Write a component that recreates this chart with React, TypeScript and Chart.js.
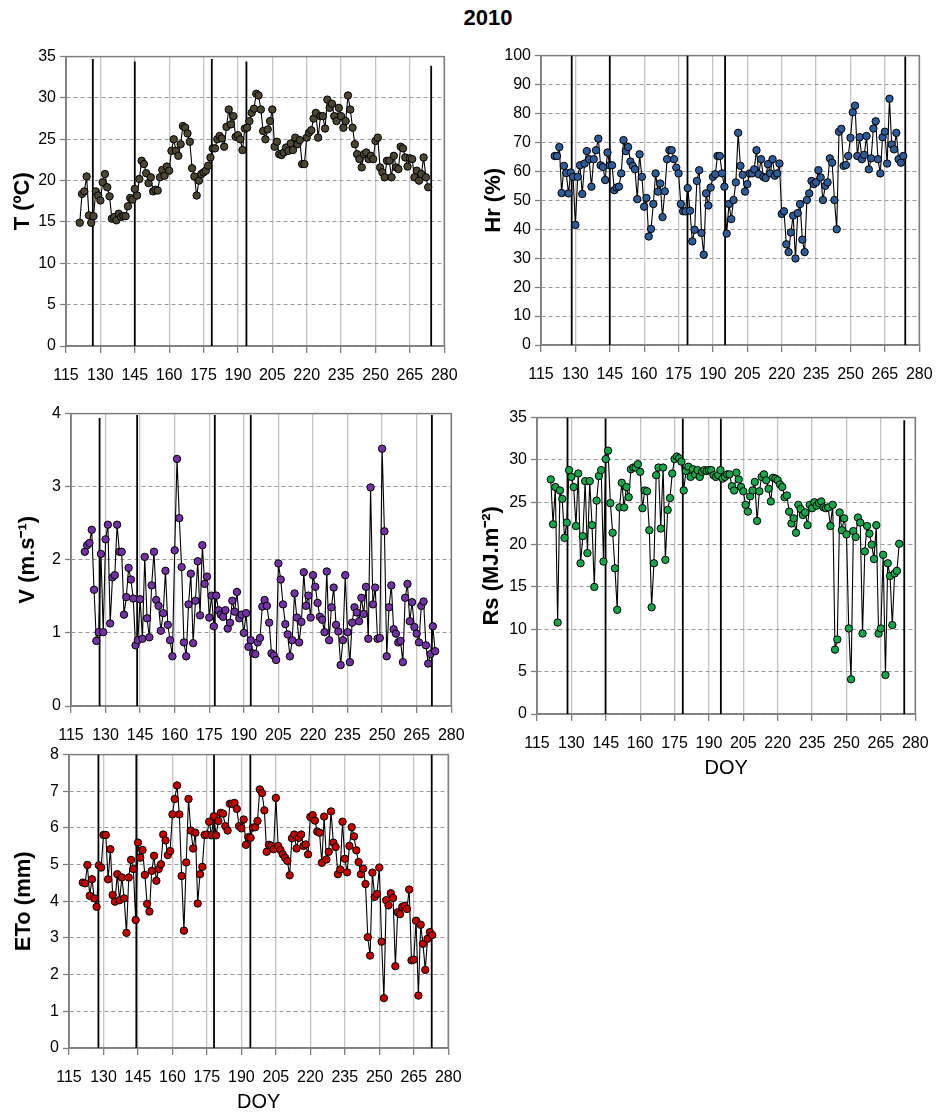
import React, { useEffect, useRef } from "react";
import { Chart, registerables } from "chart.js";

Chart.register(...registerables);

// ---------------- DATA ----------------
const DOY = [
  121, 122, 123, 124, 125, 126, 127, 128, 129, 130, 131, 132, 133, 134, 135, 136, 137, 138, 139, 140,
  141, 142, 143, 144, 145, 146, 147, 148, 149, 150, 151, 152, 153, 154, 155, 156, 157, 158, 159, 160,
  161, 162, 163, 164, 165, 166, 167, 168, 169, 170, 171, 172, 173, 174, 175, 176, 177, 178, 179, 180,
  181, 182, 183, 184, 185, 186, 187, 188, 189, 190, 191, 192, 193, 194, 195, 196, 197, 198, 199, 200,
  201, 202, 203, 204, 205, 206, 207, 208, 209, 210, 211, 212, 213, 214, 215, 216, 217, 218, 219, 220,
  221, 222, 223, 224, 225, 226, 227, 228, 229, 230, 231, 232, 233, 234, 235, 236, 237, 238, 239, 240,
  241, 242, 243, 244, 245, 246, 247, 248, 249, 250, 251, 252, 253, 254, 255, 256, 257, 258, 259, 260,
  261, 262, 263, 264, 265, 266, 267, 268, 269, 270, 271, 272, 273,
];

const T_VALUES = [
  14.9, 18.4, 18.7, 20.5, 15.8, 14.9, 15.7, 18.7, 18.2, 17.6,
  19.8, 20.8, 19.2, 18.1, 15.4, 15.6, 15.2, 16.0, 15.6, 15.7,
  15.7, 16.9, 17.9, 17.7, 19.0, 18.2, 20.2, 22.4, 22.0, 20.9,
  19.7, 20.4, 18.7, 18.9, 18.8, 20.4, 21.3, 20.6, 21.7, 21.2,
  23.6, 25.0, 23.6, 23.0, 24.4, 26.6, 26.4, 25.7, 24.7, 21.5,
  20.5, 18.2, 20.0, 20.8, 21.0, 21.2, 21.8, 22.8, 23.9, 23.9,
  25.0, 25.4, 25.1, 24.1, 26.5, 28.6, 26.8, 27.8, 25.3, 25.5,
  25.0, 23.7, 26.3, 26.4, 27.2, 28.2, 28.7, 30.5, 30.3, 28.6,
  26.0, 25.0, 26.2, 27.2, 28.6, 24.1, 24.7, 23.2, 23.1, 23.4,
  24.0, 23.6, 24.5, 23.7, 25.2, 24.4, 24.9, 22.0, 22.0, 25.2,
  25.8, 26.1, 27.5, 28.2, 25.2, 27.8, 27.8, 26.3, 29.8, 28.8,
  29.3, 27.8, 27.2, 28.8, 27.8, 26.4, 27.2, 30.3, 28.6, 26.4,
  24.4, 23.2, 22.6, 21.6, 23.2, 23.4, 22.6, 23.0, 22.6, 24.8,
  25.2, 21.6, 21.0, 20.4, 22.4, 22.4, 20.4, 23.0, 21.6, 21.4,
  24.1, 23.9, 22.8, 21.7, 22.7, 22.6, 20.4, 21.2, 20.0, 20.8,
  22.8, 20.4, 19.2,
];

const HR_VALUES = [
  65.3, 65.3, 68.4, 52.5, 61.9, 59.4, 52.4, 59.6, 58.1, 41.5,
  58.1, 62.1, 52.2, 62.7, 67.0, 64.2, 54.7, 64.2, 67.3, 71.3,
  62.1, 61.5, 57.0, 66.5, 62.1, 62.1, 53.5, 54.4, 54.7, 59.3,
  70.8, 67.0, 68.4, 63.4, 61.9, 60.7, 50.4, 65.9, 58.1, 47.8,
  50.8, 37.5, 40.1, 48.7, 59.3, 53.0, 55.8, 44.2, 53.1, 64.2,
  67.3, 67.3, 64.2, 61.3, 59.3, 48.7, 46.2, 46.2, 54.2, 46.4,
  35.8, 39.8, 56.7, 60.4, 38.7, 31.2, 52.4, 48.2, 54.4, 58.1,
  59.0, 65.3, 65.3, 59.3, 54.7, 38.5, 48.7, 43.5, 50.1, 56.2,
  73.3, 61.9, 58.8, 53.0, 55.6, 59.3, 59.3, 60.7, 67.3, 59.0,
  64.2, 58.1, 57.7, 62.5, 59.3, 64.2, 58.5, 59.3, 62.7, 45.3,
  46.2, 34.8, 32.1, 38.9, 44.7, 29.9, 45.6, 48.7, 36.4, 32.1,
  50.1, 52.4, 56.7, 55.6, 56.2, 60.4, 57.9, 50.1, 55.0, 56.2,
  64.5, 63.0, 50.1, 40.0, 73.7, 74.7, 61.9, 62.2, 65.3, 71.6,
  80.4, 82.7, 65.3, 71.8, 64.2, 65.7, 72.2, 60.7, 64.5, 74.8,
  77.3, 64.2, 59.3, 71.8, 73.7, 62.7, 85.1, 69.3, 67.6, 73.3,
  64.2, 63.0, 65.3,
];

const V_VALUES = [
  2.11, 2.20, 2.23, 2.41, 1.59, 0.89, 1.01, 2.08, 1.01, 2.28,
  2.48, 1.13, 1.76, 1.79, 2.48, 2.11, 2.11, 1.25, 1.49, 1.89,
  1.73, 1.47, 0.83, 0.90, 1.46, 0.92, 2.04, 1.20, 0.94, 1.65,
  2.11, 1.45, 1.37, 1.03, 1.27, 1.85, 1.11, 0.90, 0.68, 2.13,
  3.38, 2.57, 1.90, 0.87, 0.68, 1.39, 1.81, 0.86, 1.44, 1.98,
  1.24, 2.20, 1.67, 1.77, 1.21, 1.51, 1.09, 1.51, 1.31, 1.25,
  1.22, 1.31, 1.06, 1.14, 1.44, 1.29, 1.56, 1.20, 1.25, 1.00,
  1.27, 0.81, 0.90, 0.72, 0.71, 0.87, 0.93, 1.36, 1.45, 1.37,
  1.14, 0.72, 0.69, 0.63, 1.95, 1.73, 1.39, 1.12, 0.98, 0.68,
  0.90, 1.54, 1.21, 0.87, 1.15, 1.83, 1.37, 1.51, 1.21, 1.79,
  1.63, 1.41, 1.22, 1.18, 1.01, 1.84, 0.90, 1.35, 1.62, 1.11,
  1.02, 0.56, 0.90, 1.79, 1.01, 0.60, 1.14, 1.35, 1.28, 1.16,
  1.48, 1.26, 1.63, 0.92, 2.99, 1.39, 1.62, 0.92, 0.93, 3.52,
  2.39, 0.68, 1.35, 1.65, 1.05, 0.99, 0.87, 0.89, 0.60, 1.48,
  1.67, 1.16, 1.42, 1.08, 0.99, 0.87, 1.37, 1.43, 0.83, 0.58,
  0.71, 1.09, 0.75,
];

const RS_VALUES = [
  27.7, 22.4, 26.8, 10.8, 26.4, 25.4, 20.8, 22.6, 28.8, 28.0,
  26.8, 22.2, 28.4, 17.8, 21.0, 27.5, 19.0, 27.5, 22.3, 15.0,
  25.2, 28.1, 28.8, 18.0, 30.1, 31.1, 24.9, 21.4, 17.2, 12.3,
  24.4, 27.3, 24.4, 26.8, 25.6, 28.9, 29.1, 29.1, 29.5, 28.6,
  24.3, 26.4, 26.3, 21.7, 12.6, 17.8, 28.2, 29.1, 21.9, 29.1,
  18.2, 24.1, 25.5, 28.4, 30.1, 30.4, 30.2, 29.8, 26.4, 28.7,
  29.2, 28.0, 28.9, 28.3, 28.8, 28.0, 28.6, 28.8, 28.7, 28.8,
  28.8, 28.2, 28.0, 28.2, 28.8, 27.8, 28.0, 28.3, 28.3, 26.9,
  26.4, 28.5, 27.7, 26.8, 26.3, 24.7, 23.9, 25.7, 26.4, 27.4,
  22.8, 26.3, 28.0, 28.3, 27.6, 26.6, 25.1, 27.9, 27.8, 27.6,
  27.1, 26.8, 25.6, 25.8, 23.9, 22.5, 23.1, 21.4, 24.7, 24.2,
  23.5, 23.8, 22.3, 24.7, 24.3, 25.0, 24.6, 24.9, 25.1, 24.4,
  24.3, 24.4, 22.2, 24.7, 7.6, 8.8, 23.8, 21.7, 23.1, 21.2,
  10.1, 4.1, 21.6, 20.9, 23.2, 22.6, 9.5, 19.2, 22.2, 21.3,
  20.0, 18.3, 22.3, 9.5, 10.1, 18.8, 4.6, 17.8, 16.3, 10.5,
  16.6, 16.9, 20.1,
];

const ETO_VALUES = [
  4.51, 4.49, 4.99, 4.15, 4.60, 4.08, 3.85, 4.98, 4.92, 5.81,
  5.81, 4.60, 5.42, 4.17, 3.99, 4.74, 4.03, 4.65, 4.08, 3.14,
  4.65, 5.13, 4.88, 3.49, 5.60, 5.19, 5.40, 4.72, 3.93, 3.72,
  4.83, 5.24, 4.56, 4.88, 5.01, 5.82, 5.66, 5.26, 5.37, 6.37,
  6.79, 7.16, 6.37, 4.69, 3.20, 5.06, 6.79, 5.93, 5.44, 5.87,
  3.94, 4.74, 4.94, 5.81, 5.82, 6.17, 5.80, 6.32, 5.80, 6.19,
  6.41, 6.39, 6.05, 5.93, 6.66, 6.66, 6.68, 6.52, 6.05, 5.99,
  6.23, 5.54, 5.75, 5.73, 6.01, 6.02, 6.19, 7.05, 6.95, 6.48,
  5.35, 5.54, 5.51, 5.42, 6.82, 5.51, 5.40, 5.28, 5.19, 5.10,
  4.71, 5.72, 5.82, 5.44, 5.73, 5.82, 5.51, 5.55, 5.28, 6.30,
  6.35, 6.20, 5.90, 5.87, 5.05, 6.31, 5.14, 5.35, 6.45, 5.60,
  5.48, 4.74, 4.87, 6.17, 5.16, 4.79, 5.51, 6.02, 5.77, 5.39,
  5.07, 4.74, 4.89, 4.47, 3.02, 2.52, 4.78, 4.12, 4.20, 4.92,
  2.90, 1.36, 4.03, 3.89, 4.22, 4.09, 2.23, 3.70, 3.65, 3.85,
  3.88, 3.79, 4.32, 2.39, 2.41, 3.47, 1.43, 3.36, 2.84, 2.13,
  2.98, 3.16, 3.08,
];

// vertical reference lines (DOY) and their top value, per panel
const T_STAGE_DOY = [126.7, 145.0, 178.6, 193.7, 274.3];
const T_STAGE_TOP = [34.7, 34.4, 34.7, 34.4, 33.9];
const HR_STAGE_DOY = [128.4, 145.0, 178.9, 195.3, 273.9];
const HR_STAGE_TOP = [100, 100, 100, 100, 99.7];
const V_STAGE_DOY = [127.4, 143.7, 177.4, 193.0, 271.6];
const V_STAGE_TOP = [3.94, 3.98, 3.98, 3.98, 3.98];
const RS_STAGE_DOY = [128.3, 144.9, 178.6, 195.2, 275.2];
const RS_STAGE_TOP = [35, 34.9, 34.9, 34.9, 34.7];
const ETO_STAGE_DOY = [127.8, 144.3, 178.1, 193.9, 272.8];
const ETO_STAGE_TOP = [8, 8, 8, 8, 8];

const X_MIN = 115;
const X_MAX = 280;
const X_STEP = 15;

// ---------------- FONTS ----------------
function hasFont(name: string): boolean {
  try {
    const ctx = document.createElement("canvas").getContext("2d");
    if (!ctx) return false;
    const s = "115 130 DOY 2010";
    ctx.font = "18px monospace";
    const w1 = ctx.measureText(s).width;
    ctx.font = `18px "${name}", monospace`;
    const w2 = ctx.measureText(s).width;
    return Math.abs(w1 - w2) > 0.5;
  } catch {
    return false;
  }
}

const NARROW_OK = typeof document !== "undefined" && hasFont("Liberation Sans Narrow");
const TICK_FAMILY = NARROW_OK ? '"Liberation Sans Narrow", "Liberation Sans", sans-serif' : '"Liberation Sans", Arial, sans-serif';
const TICK_SIZE = NARROW_OK ? 18 : 16;
const DOY_SIZE = NARROW_OK ? 23 : 20;
const TITLE_SIZE = NARROW_OK ? 26 : 22;
const YTITLE_FAMILY = '"Liberation Sans", Arial, sans-serif';
const YTITLE_SIZE = 22;
const X_LABEL_CENTER = 30; // distance from axis to label centre
const X_TICK_LEN = 7;

// ---------------- LAYOUT ----------------
const PAD_TOP = 12;
const PAD_RIGHT = 20;

type Panel = {
  id: string;
  values: number[];
  color: string;
  yMax: number;
  yStep: number;
  yTitle: string;
  stageDoy: number[];
  stageTop: number[];
  plot: { left: number; top: number; right: number; bottom: number };
  titleCenterX: number;
  showDoy: boolean;
};

const PANELS: Panel[] = [
  {
    id: "T", values: T_VALUES, color: "#4b4633", yMax: 35, yStep: 5, yTitle: "T (ºC)",
    stageDoy: T_STAGE_DOY, stageTop: T_STAGE_TOP,
    plot: { left: 66, top: 55, right: 451, bottom: 346 }, titleCenterX: 23, showDoy: false,
  },
  {
    id: "Hr", values: HR_VALUES, color: "#2f5b97", yMax: 100, yStep: 10, yTitle: "Hr (%)",
    stageDoy: HR_STAGE_DOY, stageTop: HR_STAGE_TOP,
    plot: { left: 541, top: 54, right: 926, bottom: 345 }, titleCenterX: 494, showDoy: false,
  },
  {
    id: "V", values: V_VALUES, color: "#7232a3", yMax: 4, yStep: 1, yTitle: "V (m.s⁻¹)",
    stageDoy: V_STAGE_DOY, stageTop: V_STAGE_TOP,
    plot: { left: 71, top: 412, right: 458, bottom: 706 }, titleCenterX: 28, showDoy: false,
  },
  {
    id: "Rs", values: RS_VALUES, color: "#17a54b", yMax: 35, yStep: 5, yTitle: "Rs (MJ.m⁻²)",
    stageDoy: RS_STAGE_DOY, stageTop: RS_STAGE_TOP,
    plot: { left: 537, top: 416, right: 922, bottom: 714 }, titleCenterX: 492, showDoy: true,
  },
  {
    id: "ETo", values: ETO_VALUES, color: "#c40000", yMax: 8, yStep: 1, yTitle: "ETo (mm)",
    stageDoy: ETO_STAGE_DOY, stageTop: ETO_STAGE_TOP,
    plot: { left: 69, top: 753, right: 455, bottom: 1048 }, titleCenterX: 24, showDoy: true,
  },
];

const framePlugin = {
  id: "frameBox",
  beforeDatasetsDraw(chart: any) {
    const { ctx, chartArea } = chart;
    const { left, top, right, bottom } = chartArea;
    ctx.save();
    ctx.strokeStyle = "#7f7f7f";
    ctx.lineWidth = 1.5;
    ctx.strokeRect(left, top, right - left, bottom - top);
    ctx.restore();
  },
};

function PanelChart({ panel }: { panel: Panel }) {
  const ref = useRef<HTMLCanvasElement | null>(null);

  const yTitleLH = YTITLE_SIZE * 1.2;
  const canvasLeft = Math.round(panel.titleCenterX - yTitleLH / 2);
  const yAxisWidth = panel.plot.left - canvasLeft;
  const xAxisHeight = panel.showDoy ? 68 : 45;
  const canvasTop = panel.plot.top - PAD_TOP;
  const width = yAxisWidth + (panel.plot.right - panel.plot.left) + PAD_RIGHT;
  const height = PAD_TOP + (panel.plot.bottom - panel.plot.top) + xAxisHeight;

  useEffect(() => {
    const canvas = ref.current;
    if (!canvas) return;
    const n = Math.min(DOY.length, panel.values.length);
    const points = [];
    for (let i = 0; i < n; i++) points.push({ x: DOY[i], y: panel.values[i] });

    const stageSets = panel.stageDoy.map((d, i) => ({
      data: [
        { x: d, y: 0 },
        { x: d, y: panel.stageTop[i] },
      ],
      borderColor: "#000000",
      borderWidth: 1.8,
      pointRadius: 0,
      fill: false,
    }));

    const tickFont = { family: TICK_FAMILY, size: TICK_SIZE };
    const xPad = Math.max(0, X_LABEL_CENTER - X_TICK_LEN - (TICK_SIZE * 1.2) / 2);

    const chart = new Chart(canvas, {
      type: "line",
      data: {
        datasets: [
          {
            data: points,
            borderColor: "#000000",
            borderWidth: 1.1,
            pointRadius: 3.7,
            pointBackgroundColor: panel.color,
            pointBorderColor: "#000000",
            pointBorderWidth: 1,
            tension: 0,
            fill: false,
          },
          ...stageSets,
        ] as any,
      },
      options: {
        animation: false,
        responsive: false,
        devicePixelRatio: 1,
        events: [],
        layout: { padding: { top: PAD_TOP, right: PAD_RIGHT, left: 0, bottom: 0 } },
        plugins: {
          legend: { display: false },
          tooltip: { enabled: false },
          title: { display: false },
        },
        scales: {
          x: {
            type: "linear",
            min: X_MIN,
            max: X_MAX,
            ticks: {
              stepSize: X_STEP,
              autoSkip: false,
              maxRotation: 0,
              minRotation: 0,
              color: "#000000",
              font: tickFont,
              padding: xPad,
            },
            grid: {
              color: "#c4c4c4",
              lineWidth: 1.3,
              tickLength: X_TICK_LEN,
              tickColor: "#7f7f7f",
              tickWidth: 1.3,
            },
            border: { color: "#7f7f7f", width: 1.5 },
            title: {
              display: panel.showDoy,
              text: "DOY",
              color: "#000000",
              font: { family: TICK_FAMILY, size: DOY_SIZE },
              padding: { top: 0, bottom: 2 },
            },
            afterFit: (s: any) => {
              s.height = xAxisHeight;
            },
          },
          y: {
            type: "linear",
            min: 0,
            max: panel.yMax,
            ticks: {
              stepSize: panel.yStep,
              color: "#000000",
              font: tickFont,
              padding: 4,
            },
            grid: {
              color: "#9a9a9a",
              lineWidth: 1,
              tickLength: 6,
              tickColor: "#7f7f7f",
              tickWidth: 1.3,
            },
            border: { color: "#7f7f7f", width: 1.5, dash: [4, 3] },
            title: {
              display: true,
              text: panel.yTitle,
              color: "#000000",
              font: { family: YTITLE_FAMILY, size: YTITLE_SIZE, weight: "bold" },
              padding: { top: 0, bottom: 0 },
            },
            afterFit: (s: any) => {
              s.width = yAxisWidth;
            },
          },
        },
      } as any,
      plugins: [framePlugin],
    });
    return () => chart.destroy();
  }, [panel, xAxisHeight, yAxisWidth]);

  return (
    <canvas
      ref={ref}
      width={width}
      height={height}
      style={{ position: "absolute", left: canvasLeft, top: canvasTop, width, height }}
    />
  );
}

export default function App() {
  return (
    <div style={{ position: "absolute", left: 0, top: 0, width: 949, height: 1113, background: "#ffffff" }}>
      <div
        style={{
          position: "absolute",
          left: 488,
          top: 5,
          transform: "translateX(-50%)",
          fontFamily: TICK_FAMILY,
          fontWeight: "bold",
          fontSize: TITLE_SIZE,
          lineHeight: 1.2,
          color: "#000000",
          whiteSpace: "nowrap",
        }}
      >
        2010
      </div>
      {PANELS.map((p) => (
        <PanelChart key={p.id} panel={p} />
      ))}
    </div>
  );
}
